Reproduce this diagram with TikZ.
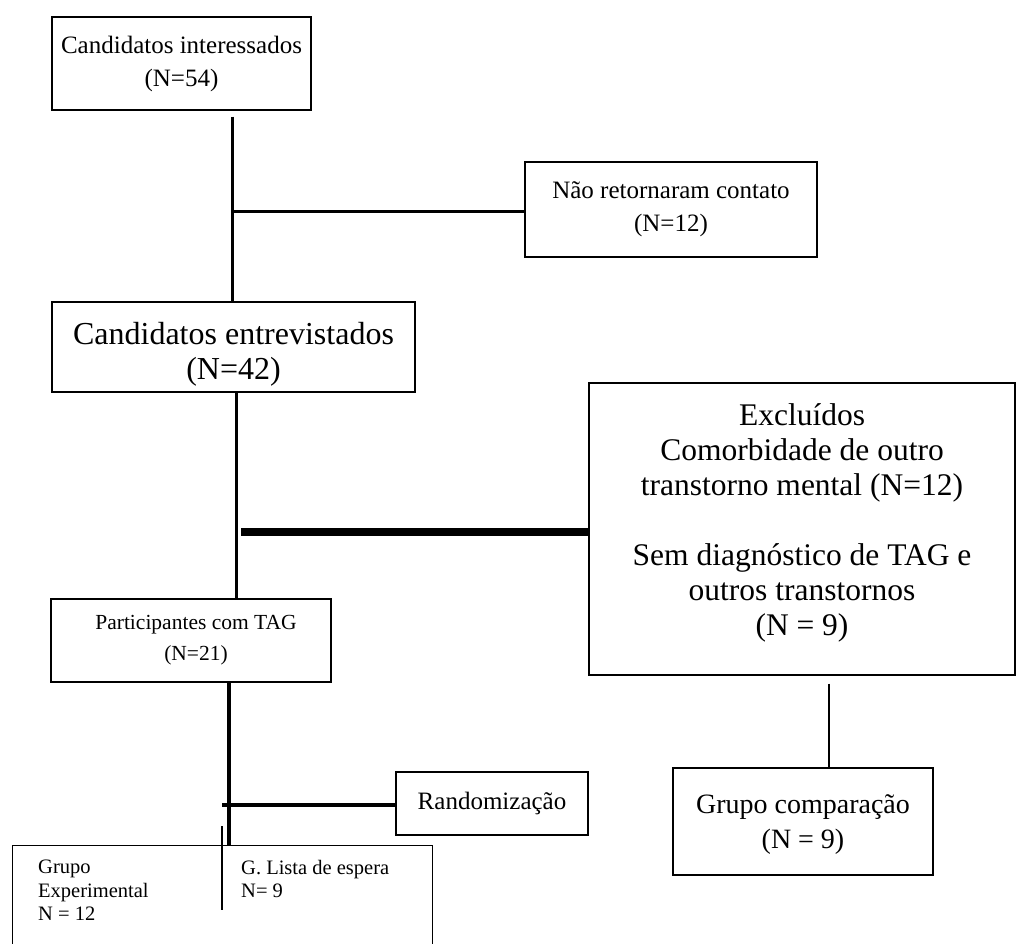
\documentclass[tikz,border=0pt]{standalone}
\usepackage{fontspec}
\setmainfont{Liberation Serif}
\begin{document}
\begin{tikzpicture}[x=1pt,y=-1pt,
  box/.style={draw,line width=1.4pt,align=center,inner sep=0pt},
  txt/.style={align=center,inner sep=0pt},
  big/.style={font=\fontsize{25}{33}\selectfont},
  mid/.style={font=\fontsize{21.5}{31}\selectfont},
  small/.style={font=\fontsize{20.5}{23.5}\selectfont},
  link/.style={line width=3pt},
  heavy/.style={line width=8pt},
  thin/.style={line width=1.3pt}]
\useasboundingbox (0,0) rectangle (1016,943);
\clip (0,0) rectangle (1016,943);
\fill[white] (0,0) rectangle (1016,943);

\node[box,big,minimum width=259pt,minimum height=93pt] (b1) at (181.5,63.5) {Candidatos interessados\\(N=54)};
\node[box,big,minimum width=292pt,minimum height=95pt] (b2) at (671,209.5) {Não retornaram contato\\(N=12)};
\node[box,minimum width=363pt,minimum height=90pt] (b3) at (233.5,347) {};
\node[txt,font=\fontsize{32}{35}\selectfont] (b3t) at ([yshift=-7pt]b3.center) {Candidatos entrevistados\\(N=42)};
\node[box,minimum width=426pt,minimum height=292pt] (b4) at (802,529) {};
\node[txt,font=\fontsize{31.5}{35}\selectfont] (b4t) at ([yshift=6pt]b4.center) {Excluídos\\Comorbidade de outro\\transtorno mental (N=12)\\[35pt]Sem diagnóstico de TAG e\\outros transtornos\\(N = 9)};
\node[box,minimum width=280pt,minimum height=83pt] (b5) at (191,640.5) {};
\node[txt,mid] (b5t) at ([xshift=5pt]b5.center) {Participantes com TAG\\(N=21)};
\node[box,big,minimum width=192pt,minimum height=63pt] (b6) at (492,803.5) {Randomização};
\node[box,minimum width=420pt,minimum height=130pt,anchor=north west] (b7) at (12,845) {};
\node[small,align=left,anchor=north west,inner sep=0pt] (t1) at (38,860) {Grupo\\Experimental\\N = 12};
\node[small,align=left,anchor=north west,inner sep=0pt] (t2) at (241,860) {G. Lista de espera\\N= 9};
\node[box,minimum width=260pt,minimum height=107pt] (b8) at (803,821.5) {};
\node[txt,font=\fontsize{28}{35}\selectfont] (b8t) at ([yshift=-3pt]b8.center) {Grupo comparação\\(N = 9)};

\coordinate (x1) at (232,0);
\coordinate (j1) at (232,211);
\coordinate (x2) at (236,0);
\coordinate (j2) at (241,532);
\coordinate (x3) at (229,0);
\coordinate (j3) at (222,805);
\coordinate (s1) at (222,826);
\coordinate (s2) at (222,910);
\coordinate (x4) at (829,0);

\draw[link] ([yshift=-6pt]x1 |- b1.south) -- (x1 |- b3.north);
\draw[link] (j1) -- (j1 -| b2.west);
\draw[link] (x2 |- b3.south) -- (x2 |- b5.north);
\draw[heavy] (j2) -- (j2 -| b4.west);
\draw[line width=4pt] (x3 |- b5.south) -- (x3 |- b7.north);
\draw[line width=4pt] (j3) -- (j3 -| b6.west);
\draw[thin] (s1) -- (s2);
\draw[thin] ([yshift=-8pt]x4 |- b4.south) -- (x4 |- b8.north);
\end{tikzpicture}
\end{document}
